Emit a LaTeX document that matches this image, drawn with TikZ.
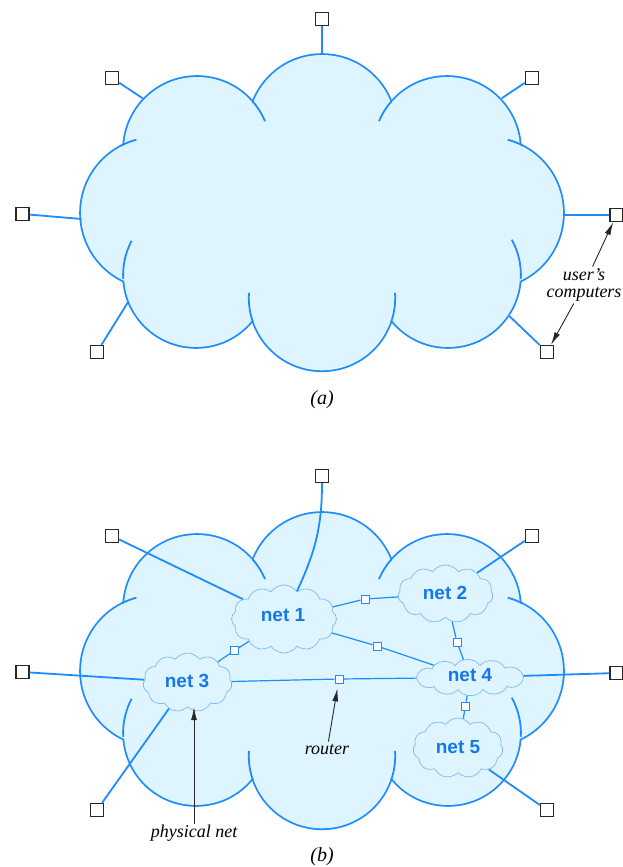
\documentclass[tikz,border=0pt]{standalone}
\usepackage{fontspec}
\setmainfont{Liberation Serif}
\newfontfamily\helv{Liberation Sans}
\usetikzlibrary{shapes.symbols,shapes.geometric,arrows.meta}
\definecolor{cloudfill}{RGB}{222,245,255}
\definecolor{cloudline}{RGB}{30,140,255}
\definecolor{netline}{RGB}{125,185,245}
\definecolor{nettext}{RGB}{20,120,235}
\definecolor{boxline}{RGB}{40,40,40}
\newcommand{\lobes}{197/150/73, 322/128.6/73.6, 447/150/73, 488/213/75, 448/275/72, 322/298/72.3, 196/275/72, 156/213/75}
\newcommand{\tuck}[5]{\draw[cloudline,line width=1.8pt] (#1,-#2) ++(#4:#3+0.9) arc[start angle=#4, end angle=#5, radius=#3+0.9];}
\newcommand{\bigcloud}{%
  \foreach \px/\py/\rr in \lobes {\draw[cloudline,line width=3.6pt] (\px,-\py) circle[radius=\rr];}
  \foreach \px/\py/\rr in \lobes {\fill[cloudfill] (\px,-\py) circle[radius=\rr];}
  \fill[cloudfill] (197,-150) -- (322,-128.6) -- (447,-150) -- (488,-213) -- (448,-275) -- (322,-298) -- (196,-275) -- (156,-213) -- cycle;
  \tuck{156}{213}{75}{117}{105}
  \tuck{197}{150}{73}{41}{23}
  \tuck{447}{150}{73}{139}{157}
  \tuck{488}{213}{75}{63}{75}
  \tuck{448}{275}{72}{-3}{29}
  \tuck{196}{275}{72}{183}{152}
  \tuck{322}{298}{72.3}{-19}{4}
  \tuck{322}{298}{72.3}{199}{176}
}
\tikzset{
  comp/.style={draw=boxline, line width=1.4pt, fill=white, minimum size=13pt, inner sep=0pt},
  rtr/.style={draw=cloudline, line width=0.9pt, fill=white, minimum size=8pt, inner sep=0pt},
  netcloud/.style={cloud, draw=netline, line width=0.7pt, fill=cloudfill, cloud ignores aspect, inner sep=0pt, cloud puff arc=110},
  puffline/.style={draw=netline, line width=0.7pt, fill=cloudfill},
  netlabel/.style={font=\helv\bfseries\fontsize{19}{19}\selectfont, text=nettext, inner sep=0pt},
  ulink/.style={draw=cloudline, line width=1.8pt},
  rlink/.style={draw=cloudline, line width=1.2pt},
  lbl/.style={font=\fontsize{18}{17}\selectfont\itshape, inner sep=1pt, align=center},
  arr/.style={draw=black!85, line width=0.9pt, -{Latex[length=13pt,width=6pt]}},
}
\begin{document}
\begin{tikzpicture}[x=1pt,y=1pt]
\useasboundingbox (0,0) rectangle (623,-867);
\fill[white] (0,0) rectangle (623,-867);
% ---------------- (a) ----------------
\bigcloud
\coordinate (ea1) at (322,-55);
\coordinate (ea2) at (142.7,-98.3);
\coordinate (ea3) at (501.7,-98.3);
\coordinate (ea4) at (81.5,-219);
\coordinate (ea5) at (562.5,-215);
\coordinate (ea6) at (128.3,-301.7);
\coordinate (ea7) at (509.3,-316);
\node[comp] (a1) at (322,-19) {};
\node[comp] (a2) at (112,-78) {};
\node[comp] (a3) at (532,-78) {};
\node[comp] (a4) at (22.5,-214) {};
\node[comp] (a5) at (616.5,-215) {};
\node[comp] (a6) at (97,-352) {};
\node[comp] (a7) at (547,-352) {};
\foreach \i in {1,...,7} {\draw[ulink] (a\i) -- (ea\i);}
\node[lbl] (uc) at (584,-285) {user’s\\computers};
\draw[arr, shorten <=1pt] (uc) -- (a5);
\draw[arr, shorten <=1pt] (uc) -- (a7);
\node[lbl, font=\fontsize{20}{20}\selectfont\itshape] (la) at (322,-400) {(a)};
% ---------------- (b) ----------------
\begin{scope}[shift={(0,-458)}]
\bigcloud
\end{scope}
\node[comp] (b1) at (322,-476) {};
\node[comp] (b2) at (112,-536) {};
\node[comp] (b3) at (532,-536) {};
\node[comp] (b4) at (22.5,-672) {};
\node[comp] (b5) at (616.5,-673) {};
\node[comp] (b6) at (97,-810) {};
\node[comp] (b7) at (547,-810) {};
\node[netcloud, cloud puffs=12, minimum width=105pt, minimum height=68pt] (n1) at (284,-619) {};
\node[netcloud, cloud puffs=11, minimum width=95pt, minimum height=58pt] (n2) at (445.5,-594) {};
\node[netcloud, cloud puffs=11, minimum width=89pt, minimum height=59pt] (n3) at (187.5,-682.5) {};
\node[ellipse, minimum width=104pt, minimum height=22pt, inner sep=0pt] (n4) at (470,-677.5) {};
\node[netcloud, cloud puffs=11, minimum width=90pt, minimum height=60pt] (n5) at (458,-748) {};
\node[rtr] (r12) at (365,-599) {};
\node[rtr] (r14) at (377,-646) {};
\node[rtr] (r24) at (457,-642) {};
\node[rtr] (r13) at (234.5,-650.5) {};
\node[rtr] (r34) at (339,-679) {};
\node[rtr] (r45) at (465.5,-706) {};
\draw[rlink] (n1) -- (r12) -- (n2);
\draw[rlink] (n1) -- (r14) -- (n4);
\draw[rlink] (n2) -- (r24) -- (n4);
\draw[rlink] (n1) -- (r13) -- (n3);
\draw[rlink] (n3) -- (r34) -- (n4);
\draw[rlink] (n4) -- (r45) -- (n5);
\draw[ulink] (b1) to[out=-90, in=65] (n1);
\draw[ulink] (b2) -- (n1);
\draw[ulink] (b3) -- (n2);
\draw[ulink] (b4) -- (n3);
\draw[ulink] (b5) -- (n4);
\draw[ulink] (b6) -- (n3);
\draw[ulink] (b7) -- (n5);
% flat cloud outline of net 4
\begin{scope}[shift={(470,-677.5)}]
\path[puffline] (-53.5,0) to[bend left=55] (-38,8.6) to[bend left=60] (-15,11.6) to[bend left=60] (10,11.8) to[bend left=60] (35,9.2) to[bend left=55] (53.5,0)
  to[bend left=55] (37,-8.8) to[bend left=60] (13,-11.8) to[bend left=60] (-12,-11.8) to[bend left=60] (-36,-9) to[bend left=55] (-53.5,0) -- cycle;
\end{scope}
\node[netlabel] (t1) at (283,-615) {net 1};
\node[netlabel] (t2) at (445,-593) {net 2};
\node[netlabel] (t3) at (187,-681) {net 3};
\node[netlabel] (t4) at (470,-675) {net 4};
\node[netlabel] (t5) at (458,-747) {net 5};
\node[lbl] (rt) at (327,-750) {router};
\draw[arr, shorten <=2pt, shorten >=5pt] (rt) -- (r34);
\node[lbl] (pn) at (194,-833) {physical net};
\draw[arr] (pn.north) -- (pn.north |- n3.south);
\node[lbl, font=\fontsize{20}{20}\selectfont\itshape] (lb) at (322,-857) {(b)};
\end{tikzpicture}
\end{document}
